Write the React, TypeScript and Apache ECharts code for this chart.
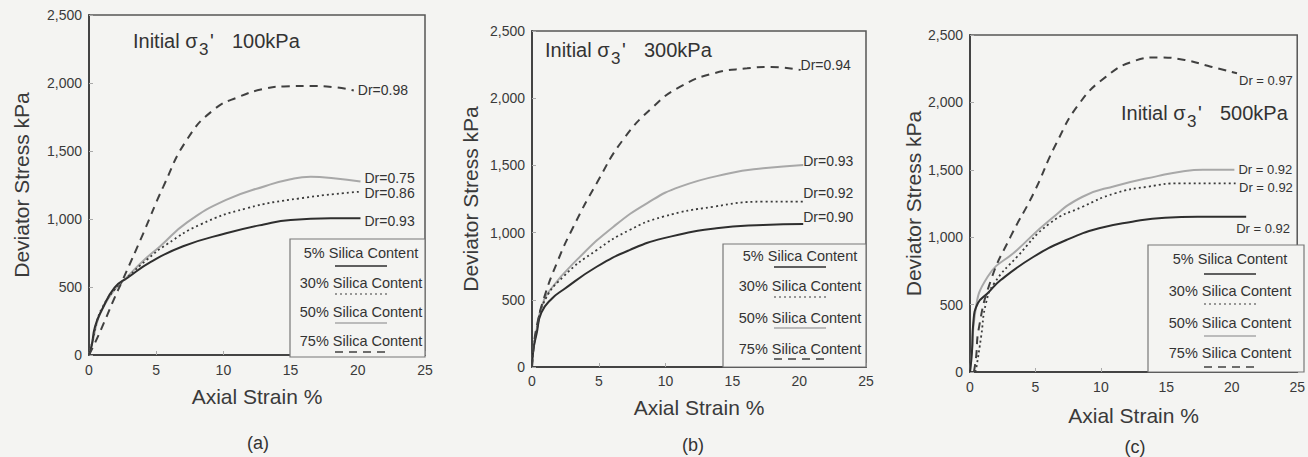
import { useEffect, useRef } from 'react';
import * as echarts from 'echarts';

// ---------- data ----------
const xTicks = [0, 5, 10, 15, 20, 25];
const yTicks = [0, 500, 1000, 1500, 2000, 2500];
const panelLetters = ['(a)', '(b)', '(c)'];
const pressures = ['100kPa', '300kPa', '500kPa'];
const contentNames = ['5% Silica Content', '30% Silica Content', '50% Silica Content', '75% Silica Content'];

// Panel (a) – initial sigma3' 100 kPa
const a5 = [[0, 0], [0.2, 70], [0.45, 210], [0.95, 330], [1.9, 495], [2.9, 570], [4.6, 685], [7, 800], [10.2, 895], [13, 960], [15, 993], [18, 1005], [20.2, 1005]];
const a30 = [[0, 0], [0.3, 120], [0.6, 250], [1.0, 350], [1.9, 480], [2.9, 575], [4.3, 700], [5.8, 815], [8.3, 960], [11.7, 1078], [15.7, 1152], [20.2, 1201]];
const a50 = [[0, 0], [0.3, 110], [0.6, 240], [1.0, 340], [1.9, 480], [2.9, 580], [4, 690], [5.3, 800], [7.3, 975], [10.2, 1140], [13.2, 1245], [15, 1293], [16.5, 1310], [18.2, 1300], [20.2, 1275]];
const a75 = [[0, 0], [0.45, 90], [1.2, 257], [1.9, 420], [2.5, 550], [4.04, 895], [5.53, 1238], [7.27, 1581], [9.25, 1801], [11.2, 1900], [13.2, 1961], [14.5, 1975], [16.5, 1978], [18.2, 1970], [19.7, 1945]];
const drA = ['Dr=0.93', 'Dr=0.86', 'Dr=0.75', 'Dr=0.98'];

// Panel (b) – initial sigma3' 300 kPa
const b5 = [[0, 0], [0.1, 126], [0.35, 251], [0.7, 405], [1.5, 510], [2.34, 575], [4.84, 746], [7.3, 870], [9.8, 957], [13.8, 1032], [17.3, 1057], [20.3, 1064]];
const b30 = [[0, 0], [0.1, 130], [0.35, 270], [0.85, 474], [2.34, 672], [4.84, 870], [7.3, 1019], [9.8, 1118], [13.6, 1193], [17.3, 1230], [20.3, 1230]];
const b50 = [[0, 0], [0.1, 130], [0.35, 280], [0.7, 440], [1.35, 573], [3.6, 821], [6.1, 1044], [8.6, 1218], [11.1, 1342], [14.8, 1441], [17.3, 1478], [20.3, 1503]];
const b75 = [[0, 0], [0.1, 130], [0.35, 300], [0.85, 498], [1.85, 771], [3.1, 1044], [4.84, 1367], [6.8, 1689], [9.08, 1937], [11.1, 2086], [13.6, 2185], [16.1, 2222], [17.9, 2232], [20.1, 2210]];
const drB = ['Dr=0.90', 'Dr=0.92', 'Dr=0.93', 'Dr=0.94'];

// Panel (c) – initial sigma3' 500 kPa
const c5 = [[0, 0], [0.15, 150], [0.25, 363], [0.6, 510], [1.35, 584], [2.35, 682], [4.86, 855], [7.36, 979], [9.86, 1066], [12.4, 1115], [14.9, 1145], [17.4, 1152], [21.1, 1152]];
const c30 = [[0.4, 0], [0.5, 40], [0.85, 262], [1.22, 510], [1.85, 658], [3.6, 855], [6.1, 1103], [8.6, 1226], [11.1, 1326], [13.6, 1375], [16.1, 1400], [20.4, 1400]];
const c50 = [[0, 0], [0.15, 150], [0.35, 410], [1.35, 707], [3.6, 905], [6.1, 1128], [8.6, 1300], [11.1, 1380], [14.4, 1455], [16.2, 1488], [17.8, 1500], [20.2, 1500]];
const c75 = [[0.3, 0], [0.47, 114], [0.65, 311], [1.6, 682], [3.1, 1004], [4.86, 1326], [6.6, 1697], [8.36, 1993], [10.4, 2191], [12.4, 2302], [14.4, 2334], [16.4, 2315], [18.4, 2265], [20.4, 2216]];
const drC = ['Dr = 0.92', 'Dr = 0.92', 'Dr = 0.92', 'Dr = 0.97'];

const panelData = [[a5, a30, a50, a75], [b5, b30, b50, b75], [c5, c30, c50, c75]];
const panelDr = [drA, drB, drC];

// ---------- layout / style ----------
const BG = '#f4f4f2';
const grids = [
  { left: 89, top: 15, width: 336, height: 340 },
  { left: 532, top: 31, width: 334, height: 336 },
  { left: 970, top: 35, width: 334, height: 337 },
];
const yNameGap = [57, 51, 42];
const xNameGap = [31, 30, 33];
const xLabelMargin = [8, 7, 8];
const lineStyles = [
  { color: '#2e2e2e', width: 2, type: 'solid' as any },
  { color: '#3a3a3a', width: 1.8, type: [2, 3] as any },
  { color: '#a8a8a8', width: 2, type: 'solid' as any },
  { color: '#404040', width: 2, type: [8, 6] as any },
];
const labelOffsets = [
  [[0, 3], [0, 1], [0, -4], [0, 0]],
  [[-4, -7], [-4, -9], [-4, -4], [-4, -5]],
  [[-14, 12], [-2, 4], [0, 0], [-2, 7]],
];
const titlePos = [
  { x: 133, y: 43 },
  { x: 545, y: 52 },
  { x: 1121, y: 115 },
];
const captionPos = [
  { x: 258, y: 443 },
  { x: 693, y: 445 },
  { x: 1135, y: 447 },
];
const legendBox = [
  { x: 290, y: 239, w: 135, h: 118, cx: 361, rows: [253, 283, 312, 341], lines: [266, 294, 323, 352] },
  { x: 723, y: 244, w: 143, h: 123, cx: 800, rows: [256, 286, 318, 349], lines: [267, 297, 328, 359] },
  { x: 1148, y: 245, w: 156, h: 127, cx: 1230, rows: [259, 291, 323, 353], lines: [274, 304, 336, 367] },
];

const fmtY = (v: number) => (v >= 1000 ? `${Math.floor(v / 1000)},${String(v % 1000).padStart(3, '0')}` : String(v));

function buildOption() {
  const grid = grids.map((g) => ({ ...g, show: true, borderColor: '#555', borderWidth: 1.5, backgroundColor: 'transparent' }));
  const xAxis = grids.map((_, i) => ({
    type: 'value', gridIndex: i, min: xTicks[0], max: xTicks[xTicks.length - 1], interval: xTicks[1] - xTicks[0],
    name: 'Axial Strain %', nameLocation: 'middle', nameGap: xNameGap[i],
    nameTextStyle: { fontSize: 21, color: '#3a3a3a', fontFamily: 'Liberation Sans' },
    axisLine: { show: true, lineStyle: { color: '#444', width: 2 } },
    axisTick: { show: true, inside: true, length: 4, lineStyle: { color: '#aaa' } },
    axisLabel: { fontSize: 14, color: '#3a3a3a', margin: xLabelMargin[i], fontFamily: 'Liberation Sans' },
    splitLine: { show: false },
  }));
  const yAxis = grids.map((_, i) => ({
    type: 'value', gridIndex: i, min: yTicks[0], max: yTicks[yTicks.length - 1], interval: yTicks[1] - yTicks[0],
    name: 'Deviator Stress kPa', nameLocation: 'middle', nameGap: yNameGap[i], nameRotate: 90,
    nameTextStyle: { fontSize: 21, color: '#3a3a3a', fontFamily: 'Liberation Sans' },
    axisLine: { show: true, lineStyle: { color: '#444', width: 2 } },
    axisTick: { show: true, inside: true, length: 4, lineStyle: { color: '#aaa' } },
    axisLabel: { fontSize: 14, color: '#3a3a3a', margin: 7, formatter: fmtY, fontFamily: 'Liberation Sans' },
    splitLine: { show: false },
  }));
  const series: any[] = [];
  panelData.forEach((curves, p) => {
    curves.forEach((data, k) => {
      series.push({
        type: 'line', xAxisIndex: p, yAxisIndex: p, name: contentNames[k], data,
        showSymbol: false, symbol: 'none', smooth: 0.5,
        lineStyle: lineStyles[k], z: k === 2 ? 1 : 2,
        endLabel: {
          show: true, formatter: panelDr[p][k], fontSize: p === 2 ? 13 : 14, color: '#333',
          fontFamily: 'Liberation Sans', distance: 4, offset: labelOffsets[p][k],
        },
      });
    });
  });

  const graphic: any[] = [];
  titlePos.forEach((t, i) => {
    const font = 'Liberation Sans';
    graphic.push({ type: 'text', left: t.x, top: t.y - 12, style: { text: 'Initial σ', fontSize: 20, fill: '#333', fontFamily: font } });
    graphic.push({ type: 'text', left: t.x + 66, top: t.y - 2, style: { text: '3', fontSize: 17, fill: '#333', fontFamily: font } });
    graphic.push({ type: 'text', left: t.x + 77, top: t.y - 12, style: { text: "'", fontSize: 20, fill: '#333', fontFamily: font } });
    graphic.push({ type: 'text', left: t.x + 99, top: t.y - 12, style: { text: pressures[i], fontSize: 20, fill: '#333', fontFamily: font } });
  });
  captionPos.forEach((c, i) => {
    graphic.push({ type: 'text', x: c.x, y: c.y, style: { text: panelLetters[i], fontSize: 18, fill: '#333', align: 'center', verticalAlign: 'middle', fontFamily: 'Liberation Sans' } });
  });
  legendBox.forEach((b) => {
    graphic.push({ type: 'rect', shape: { x: b.x, y: b.y, width: b.w, height: b.h }, style: { fill: BG, stroke: '#777', lineWidth: 1.2 }, z: 10 });
    contentNames.forEach((name, k) => {
      graphic.push({ type: 'text', x: b.cx, y: b.rows[k], z: 11, style: { text: name, fontSize: 14.5, fill: '#333', align: 'center', verticalAlign: 'middle', fontFamily: 'Liberation Sans' } });
      const ls = lineStyles[k];
      graphic.push({
        type: 'line', z: 11, shape: { x1: b.cx - 26, y1: b.lines[k], x2: b.cx + 26, y2: b.lines[k] },
        style: { stroke: ls.color, lineWidth: k === 1 ? 1.2 : 1.4, lineDash: Array.isArray(ls.type) ? ls.type : null },
      });
    });
  });

  return {
    animation: false,
    backgroundColor: BG,
    textStyle: { fontFamily: 'Liberation Sans' },
    grid, xAxis, yAxis, series, graphic,
  };
}

export default function App() {
  const ref = useRef<HTMLDivElement>(null);
  useEffect(() => {
    document.body.style.margin = '0';
    document.body.style.background = BG;
    if (!ref.current) return;
    const chart = echarts.init(ref.current, undefined, { renderer: 'svg' });
    chart.setOption(buildOption() as any);
    return () => chart.dispose();
  }, []);
  return <div ref={ref} style={{ width: 1308, height: 457 }} />;
}
